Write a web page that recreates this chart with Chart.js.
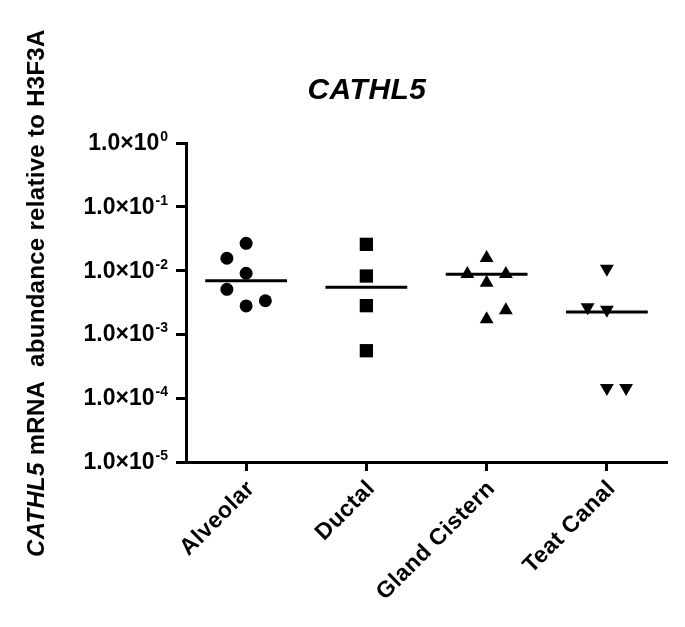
<!DOCTYPE html>
<html><head><meta charset="utf-8">
<style>html,body{margin:0;padding:0;background:#fff;}#wrap{width:685px;height:627px;}</style>
<script src="https://cdn.jsdelivr.net/npm/chart.js@4.4.0/dist/chart.umd.min.js"></script>
</head><body><div id="wrap"><canvas id="c" width="685" height="627"></canvas></div>
<script>
// ---- data ----
const categories = ['Alveolar', 'Ductal', 'Gland Cistern', 'Teat Canal'];
const alveolarValues = [0.0268, 0.0156, 0.00908, 0.00509, 0.00279, 0.00337];
const ductalValues = [0.0258, 0.00822, 0.00282, 0.000555];
const glandCisternValues = [0.0158, 0.00885, 0.00885, 0.00646, 0.00239, 0.00172];
const teatCanalValues = [0.0107, 0.00266, 0.00244, 0.000145, 0.000145];
// horizontal scatter jitter of each point (in category units)
const alveolarJitter = [0, -0.16, 0, -0.16, 0, 0.16];
const ductalJitter = [0, 0, 0, 0];
const glandCisternJitter = [0, -0.16, 0.16, 0, 0.16, 0];
const teatCanalJitter = [0, -0.16, 0, 0, 0.16];
const medianValues = [0.00695, 0.00547, 0.00875, 0.00224];
const yTickExponents = [0, -1, -2, -3, -4, -5];
const titleText = 'CATHL5';
const yTitleItalic = 'CATHL5';
const yTitleRest = ' mRNA  abundance relative to H3F3A';

const FONT = '"Liberation Sans", Arial, sans-serif';
const groups = [
  {vals: alveolarValues, jit: alveolarJitter, style: 'circle', r: 6.5, rot: 0},
  {vals: ductalValues, jit: ductalJitter, style: 'rect', r: 9.4, rot: 0},
  {vals: glandCisternValues, jit: glandCisternJitter, style: 'triangle', r: 8, rot: 0},
  {vals: teatCanalValues, jit: teatCanalJitter, style: 'triangle', r: 8, rot: 180}
];
const datasets = [];
groups.forEach((g, i) => {
  datasets.push({
    type: 'scatter', label: categories[i],
    data: g.vals.map((v, k) => ({x: i + g.jit[k], y: v})),
    pointStyle: g.style, pointRadius: g.r, pointHoverRadius: g.r, pointRotation: g.rot,
    backgroundColor: '#000', borderColor: '#000', borderWidth: 0
  });
});
medianValues.forEach((m, i) => {
  datasets.push({
    type: 'line', label: categories[i] + ' median',
    data: [{x: i - 0.34, y: m}, {x: i + 0.34, y: m}],
    borderColor: '#000', borderWidth: 3, pointRadius: 0, fill: false
  });
});

const textPlugin = {
  id: 'texts',
  afterDraw(chart) {
    const ctx = chart.ctx, ys = chart.scales.y, xs = chart.scales.x;
    ctx.save();
    ctx.fillStyle = '#000';
    // title
    ctx.font = 'italic bold 30px ' + FONT;
    ctx.letterSpacing = '0.5px';
    ctx.textAlign = 'center'; ctx.textBaseline = 'alphabetic';
    ctx.fillText(titleText, 367, 99);
    // y tick labels
    yTickExponents.forEach(e => {
      const py = ys.getPixelForValue(Math.pow(10, e));
      const right = ys.right - 18;
      ctx.textAlign = 'right';
      ctx.font = 'bold 14px ' + FONT;
      ctx.letterSpacing = '0px';
      const sup = String(e);
      const sw = ctx.measureText(sup).width;
      ctx.fillText(sup, right, py - 2);
      ctx.font = 'bold 23px ' + FONT;
      ctx.fillText('1.0\u00d710', right - sw - 1, py + 7);
    });
    // x tick labels
    ctx.font = 'bold 23px ' + FONT;
    ctx.letterSpacing = '0.5px';
    categories.forEach((c, i) => {
      const px = xs.getPixelForValue(i);
      ctx.save();
      ctx.translate(px + 5, xs.top + 23);
      ctx.rotate(-Math.PI / 4);
      ctx.textAlign = 'right'; ctx.textBaseline = 'middle';
      ctx.fillText(c, 0, 0);
      ctx.restore();
    });
    // y axis title
    ctx.save();
    ctx.translate(44, 557);
    ctx.rotate(-Math.PI / 2);
    ctx.textAlign = 'left'; ctx.textBaseline = 'alphabetic';
    ctx.letterSpacing = '0.3px';
    ctx.font = 'italic bold 24px ' + FONT;
    ctx.fillText(yTitleItalic, 0, 0);
    const w1 = ctx.measureText(yTitleItalic).width;
    ctx.font = 'bold 24px ' + FONT;
    ctx.fillText(yTitleRest, w1, 0);
    ctx.restore();
    ctx.restore();
  }
};

const gridOpts = (len) => ({display: true, drawOnChartArea: false, drawTicks: true, tickLength: len, tickWidth: 3, tickColor: '#000', color: '#000'});

new Chart(document.getElementById('c'), {
  type: 'scatter',
  data: {datasets},
  options: {
    responsive: false, animation: false, devicePixelRatio: 1,
    layout: {padding: {top: 143, right: 18, left: 0, bottom: 0}},
    plugins: {legend: {display: false}, tooltip: {enabled: false}, title: {display: false}},
    scales: {
      x: {
        type: 'linear', min: -0.5, max: 3.5,
        afterBuildTicks: s => { s.ticks = categories.map((c, i) => ({value: i})); },
        afterFit: s => { s.height = 165; },
        ticks: {display: false},
        grid: gridOpts(9),
        border: {display: true, color: '#000', width: 3}
      },
      y: {
        type: 'logarithmic', min: 1e-5, max: 1,
        afterBuildTicks: s => { s.ticks = yTickExponents.map(e => ({value: Math.pow(10, e)})); },
        afterFit: s => { s.width = 186; },
        ticks: {display: false},
        grid: gridOpts(10),
        border: {display: true, color: '#000', width: 3}
      }
    }
  },
  plugins: [textPlugin]
});
</script></body></html>
